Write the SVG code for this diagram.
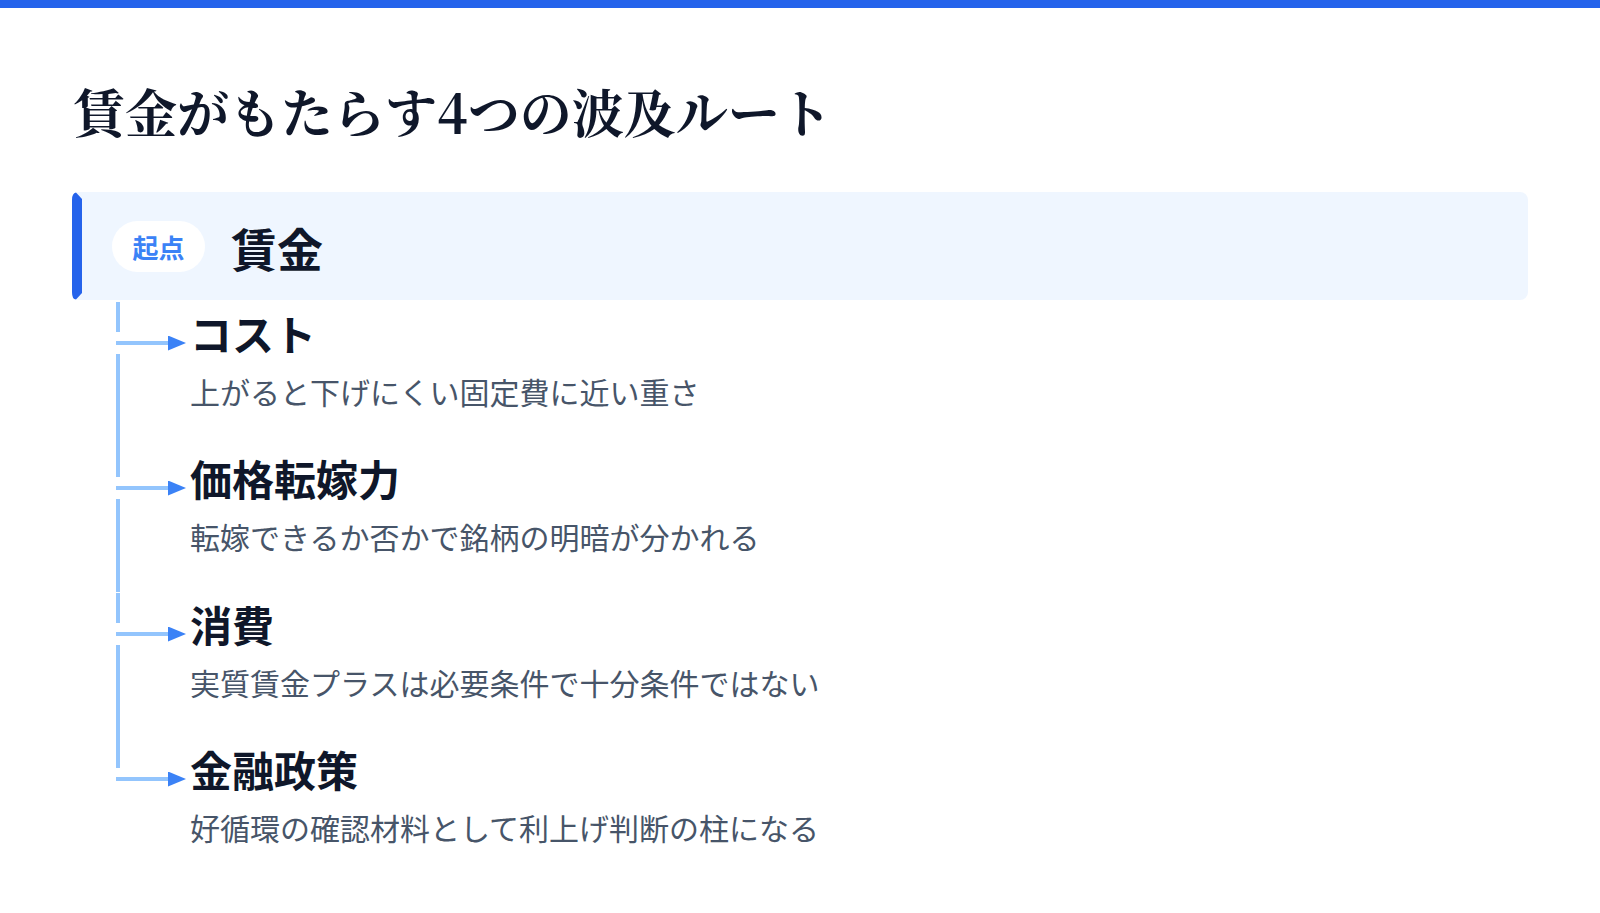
<svg xmlns="http://www.w3.org/2000/svg" width="1600" height="913" viewBox="0 0 1600 913">
<defs>
<style>
.title{font-family:"Noto Serif CJK JP","Noto Serif JP","Noto Sans CJK JP",serif;font-weight:700;font-size:52px;fill:#0f172a}
.head{font-family:"Noto Sans CJK JP","Noto Sans",sans-serif;font-weight:700;font-size:42px;fill:#0f172a}
.sub{font-family:"Noto Sans CJK JP","Noto Sans",sans-serif;font-weight:400;font-size:30px;fill:#475569}
.root{font-family:"Noto Sans CJK JP","Noto Sans",sans-serif;font-weight:700;font-size:46px;fill:#0f172a}
.badge{font-family:"Noto Sans CJK JP","Noto Sans",sans-serif;font-weight:700;font-size:26px;fill:#3b82f6}
.vline{stroke:#93c5fd;stroke-width:4;fill:none}
.hline{stroke:#93c5fd;stroke-width:4;fill:none;marker-end:url(#arr)}
</style>
<marker id="arr" markerUnits="userSpaceOnUse" markerWidth="18" markerHeight="15" refX="0" refY="7.5" orient="auto">
<path d="M0,0 L18,7.5 L0,15 Z" fill="#3b82f6"/>
</marker>
</defs>
<rect x="0" y="0" width="1600" height="913" fill="#ffffff"/>
<rect x="0" y="0" width="1600" height="8" fill="#2563eb"/>
<text class="title" x="73" y="133">賃金がもたらす4つの波及ルート</text>

<g id="root">
<rect x="72" y="192" width="1456" height="108" rx="8" fill="#eff6ff"/>
<path d="M82,199 L76,192.5 Q72,193 72,200 L72,292 Q72,299.5 76,299.5 L82,293 Z" fill="#2563eb"/>
<rect x="112" y="221" width="93" height="51" rx="25.5" fill="#ffffff"/>
<text class="badge" x="158.5" y="257.5" text-anchor="middle">起点</text>
<text class="root" x="231" y="267">賃金</text>
</g>

<g id="connectors">
<line class="vline" x1="118" y1="302" x2="118" y2="332"/>
<line class="vline" x1="118" y1="354" x2="118" y2="477"/>
<line class="vline" x1="118" y1="499" x2="118" y2="592"/>
<line class="vline" x1="118" y1="593" x2="118" y2="623"/>
<line class="vline" x1="118" y1="645" x2="118" y2="768"/>
<line class="hline" x1="116" y1="343" x2="168" y2="343"/>
<line class="hline" x1="116" y1="488" x2="168" y2="488"/>
<line class="hline" x1="116" y1="634" x2="168" y2="634"/>
<line class="hline" x1="116" y1="779" x2="168" y2="779"/>
</g>

<g id="item-cost">
<text class="head" x="190" y="351">コスト</text>
<text class="sub" x="190" y="404">上がると下げにくい固定費に近い重さ</text>
</g>
<g id="item-pricing">
<text class="head" x="190" y="496">価格転嫁力</text>
<text class="sub" x="190" y="549">転嫁できるか否かで銘柄の明暗が分かれる</text>
</g>
<g id="item-consumption">
<text class="head" x="190" y="642">消費</text>
<text class="sub" x="190" y="695">実質賃金プラスは必要条件で十分条件ではない</text>
</g>
<g id="item-policy">
<text class="head" x="190" y="787">金融政策</text>
<text class="sub" x="190" y="840">好循環の確認材料として利上げ判断の柱になる</text>
</g>
</svg>
